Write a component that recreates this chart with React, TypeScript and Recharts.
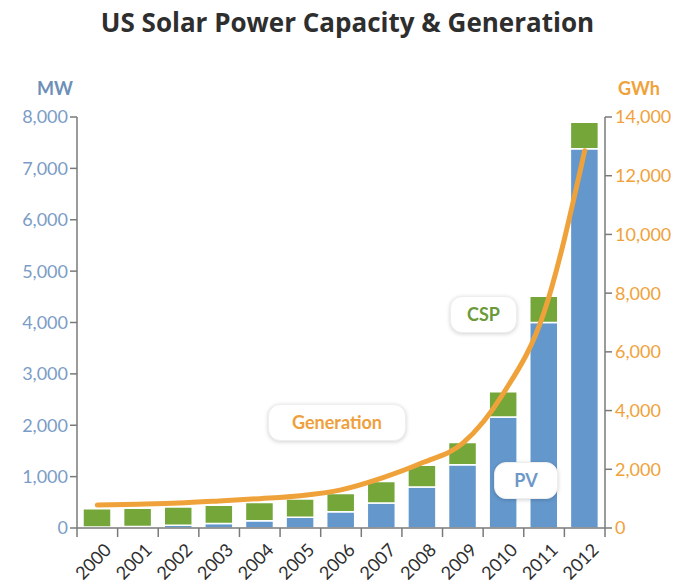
import { ComposedChart, Bar, Line, XAxis, YAxis } from 'recharts';

const years = ['2000', '2001', '2002', '2003', '2004', '2005', '2006', '2007', '2008', '2009', '2010', '2011', '2012'];
// installed capacity, MW
const pv = [20, 30, 55, 90, 140, 210, 315, 486, 800, 1230, 2160, 4000, 7380];
const csp = [354, 354, 354, 354, 354, 354, 355, 419, 419, 435, 490, 510, 520];
// net generation, GWh
const generation = [780, 810, 850, 920, 1000, 1100, 1300, 1700, 2220, 2890, 4590, 7350, 12850];

const mwTicks = [0, 1000, 2000, 3000, 4000, 5000, 6000, 7000, 8000];
const gwhTicks = [0, 2000, 4000, 6000, 8000, 10000, 12000, 14000];

const data = years.map((year, i) => ({
  year,
  pv: pv[i],
  csp: csp[i],
  generation: generation[i],
}));

const BLUE = '#6498cd';
const GREEN = '#74a63a';
const ORANGE = '#f0a23a';
const AXIS = '#7a7a7a';
const FONT = 'Lato, "Open Sans", sans-serif';

const PLOT_LEFT = 77;
const PLOT_RIGHT = 605;
const BAND = (PLOT_RIGHT - PLOT_LEFT) / years.length;

const fmt = (v: number) => v.toLocaleString('en-US');

const YearTick = ({ x, y, payload, index }: any) => {
  const top = y - 10;
  const left = x - BAND / 2;
  return (
    <g>
      <line x1={left} y1={top} x2={left} y2={top + 9} stroke={AXIS} strokeWidth={1.5} />
      {index === years.length - 1 && (
        <line x1={left + BAND} y1={top} x2={left + BAND} y2={top + 9} stroke={AXIS} strokeWidth={1.5} />
      )}
      <text
        x={x + 5}
        y={y + 3}
        textAnchor="end"
        transform={`rotate(-45, ${x + 5}, ${y + 3})`}
        fill="#2e2e2e"
        fontSize={18}
        fontFamily={FONT}
        dominantBaseline="hanging"
      >
        {payload.value}
      </text>
    </g>
  );
};

const boxStyle = (left: number, top: number, width: number, color: string): any => ({
  position: 'absolute',
  left,
  top,
  width,
  height: 35,
  lineHeight: '35px',
  background: '#fff',
  borderRadius: 12,
  boxShadow: '0 1px 4px rgba(0,0,0,0.18)',
  border: '1px solid #eee',
  textAlign: 'center',
  color,
  fontFamily: FONT,
  fontWeight: 700,
  fontSize: 18,
});

export default function App() {
  return (
    <div style={{ position: 'absolute', left: 0, top: 0, width: 695, height: 588, background: '#fff' }}>
      <div
        style={{
          position: 'absolute',
          left: 0,
          top: 4,
          width: 695,
          textAlign: 'center',
          fontFamily: '"Open Sans", sans-serif',
          fontWeight: 700,
          fontSize: 26,
          color: '#2e2e2e',
        }}
      >
        US Solar Power Capacity &amp; Generation
      </div>
      <div style={{ position: 'absolute', left: 37, top: 77, fontFamily: FONT, fontWeight: 700, fontSize: 18, color: '#6d8fb8' }}>
        MW
      </div>
      <div style={{ position: 'absolute', left: 618, top: 77, fontFamily: FONT, fontWeight: 700, fontSize: 18, color: ORANGE }}>
        GWh
      </div>

      <ComposedChart
        width={695}
        height={588}
        data={data}
        margin={{ top: 117, right: 0, bottom: 0, left: 0 }}
        barSize={28}
      >
        <XAxis
          dataKey="year"
          height={60}
          axisLine={{ stroke: AXIS, strokeWidth: 1.5 }}
          tickLine={false}
          tickSize={8}
          tickMargin={2}
          interval={0}
          tick={<YearTick />}
        />
        <YAxis
          yAxisId="mw"
          orientation="left"
          width={PLOT_LEFT}
          domain={[0, 8000]}
          ticks={mwTicks}
          tickFormatter={fmt}
          axisLine={{ stroke: AXIS, strokeWidth: 1.5 }}
          tickLine={{ stroke: AXIS, strokeWidth: 1.5 }}
          tickSize={7}
          tickMargin={2}
          tick={{ fill: '#7b9cc6', fontSize: 18, fontFamily: FONT }}
        />
        <YAxis
          yAxisId="gwh"
          orientation="right"
          width={695 - PLOT_RIGHT}
          domain={[0, 14000]}
          ticks={gwhTicks}
          tickFormatter={fmt}
          axisLine={{ stroke: AXIS, strokeWidth: 1.5 }}
          tickLine={{ stroke: AXIS, strokeWidth: 1.5 }}
          tickSize={7}
          tickMargin={3}
          tick={{ fill: ORANGE, fontSize: 18, fontFamily: FONT }}
        />
        <Bar yAxisId="mw" dataKey="pv" stackId="cap" fill={BLUE} stroke="#fff" strokeWidth={1.5} isAnimationActive={false} />
        <Bar yAxisId="mw" dataKey="csp" stackId="cap" fill={GREEN} stroke="#fff" strokeWidth={1.5} isAnimationActive={false} />
        <Line
          yAxisId="gwh"
          type="monotone"
          dataKey="generation"
          stroke={ORANGE}
          strokeWidth={5}
          strokeLinecap="round"
          dot={false}
          isAnimationActive={false}
        />
      </ComposedChart>

      <div style={boxStyle(268, 404, 136, '#eea03c')}>Generation</div>
      <div style={boxStyle(450, 296, 65, '#6b9a3a')}>CSP</div>
      <div style={boxStyle(494, 462, 62, '#6d98c8')}>PV</div>
    </div>
  );
}
